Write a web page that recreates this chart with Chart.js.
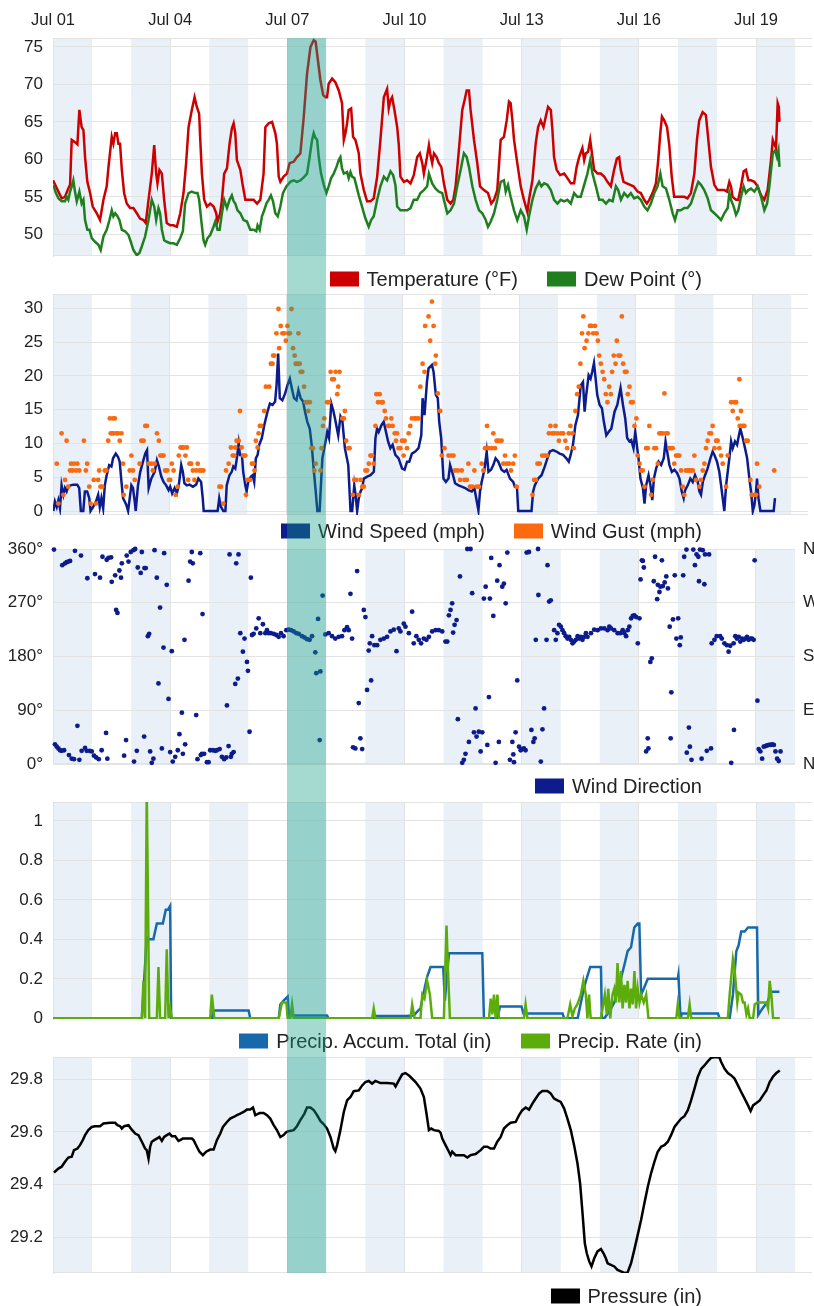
<!DOCTYPE html>
<html>
<head>
<meta charset="utf-8">
<script src="https://cdn.jsdelivr.net/npm/chart.js@4/dist/chart.umd.min.js"></script>
<style>
  html, body { margin: 0; padding: 0; background: #fff; overflow: hidden; }
  #wrap { position: relative; width: 814px; height: 1306px; overflow: hidden; font-family: "Liberation Sans", Arial, sans-serif; }
  #wrap canvas { position: absolute; left: 0; }
  .legend { position: absolute; right: 112px; display: flex; align-items: center; transform: translateY(-50%); font-size: 20px; color: #222; white-space: nowrap; }
  .legend .item { display: flex; align-items: center; margin-left: 29px; }
  .legend .sw { display: inline-block; width: 29px; height: 15px; margin-right: 8px; }
  #hl { position: absolute; background: rgba(18, 158, 131, 0.38); pointer-events: none; }
</style>
</head>
<body>
<div id="wrap">
  <canvas id="c1"></canvas>
  <canvas id="c2"></canvas>
  <canvas id="c3"></canvas>
  <canvas id="c4"></canvas>
  <canvas id="c5"></canvas>
  <div id="hl"></div>
</div>
<script>
// hours since Jul 01 00:00
const dayTickLabels = ['Jul 01', 'Jul 04', 'Jul 07', 'Jul 10', 'Jul 13', 'Jul 16', 'Jul 19'];
const compassLabels = ['N', 'E', 'S', 'W', 'N'];
const shadedDays = [0, 2, 4, 6, 8, 10, 12, 14, 16, 18];
const highlightDay = 6; // Jul 07

const temperatureF = [[0,57.2],[5.3,54.8],[7.4,55.0],[9.4,56.1],[10.5,56.6],[11.5,62.6],[13.5,62.3],[15.0,62.0],[16.2,66.6],[17.6,64.3],[18.7,63.9],[19.7,60.3],[21.1,57.0],[22.8,55.5],[24.4,53.7],[26.9,52.8],[28.9,51.9],[31.0,54.6],[33.0,56.4],[34.1,59.0],[36.1,63.0],[37.1,62.1],[38.2,63.5],[39.2,63.5],[40.2,62.1],[41.2,62.1],[42.3,58.6],[43.7,55.5],[45.3,54.1],[47.4,53.5],[49.4,53.5],[51.5,52.8],[53.5,52.1],[55.6,51.9],[57.0,51.5],[58.7,54.6],[60.7,58.1],[62.2,61.9],[63.4,58.1],[64.2,56.8],[65.4,58.6],[66.9,58.1],[68.3,54.6],[69.9,51.5],[72.0,51.2],[74.1,51.2],[76.1,51.0],[78.2,52.8],[80.2,55.5],[81.8,59.5],[83.3,64.3],[85.3,66.6],[87.0,68.3],[88.4,67.0],[89.8,66.1],[90.5,62.6],[91.5,58.1],[92.9,54.6],[94.6,53.7],[96.6,54.1],[98.7,53.7],[100.3,52.8],[101.1,51.7],[102.7,52.8],[103.8,54.6],[105.2,58.1],[106.9,58.8],[108.5,62.1],[109.9,64.1],[111.0,64.8],[112.0,63.5],[113.0,59.9],[115.1,58.6],[116.7,56.4],[118.2,54.6],[121.2,54.6],[123.3,54.6],[125.4,54.1],[127.4,54.6],[129.4,58.1],[130.5,64.3],[132.5,64.8],[134.6,65.0],[136.6,63.5],[137.6,62.1],[138.7,57.7],[139.7,57.0],[141.7,57.7],[143.8,58.1],[145.4,59.5],[147.9,59.7],[149.9,60.3],[152.0,60.8],[154.1,65.7],[156.1,71.4],[158.2,75.0],[160.2,75.9],[161.4,75.7],[162.3,74.1],[164.3,70.6],[166.0,68.6],[167.4,68.3],[168.4,68.3],[169.4,70.1],[171.5,70.8],[173.5,70.3],[175.6,69.2],[177.6,67.5],[178.7,62.6],[179.7,63.5],[180.7,64.8],[181.7,66.6],[183.2,66.8],[184.4,63.0],[185.8,62.6],[186.9,61.7],[187.9,60.8],[188.9,58.1],[191.0,55.9],[193.0,54.4],[195.1,54.4],[197.1,54.8],[199.2,57.7],[201.2,62.6],[203.3,68.3],[205.3,69.4],[206.3,66.8],[207.4,67.9],[208.4,68.3],[209.8,66.6],[211.5,64.3],[212.5,61.9],[213.5,57.7],[215.6,57.0],[217.6,57.2],[219.7,56.8],[221.7,57.9],[223.8,60.3],[225.4,60.8],[226.9,59.5],[227.9,58.1],[229.5,59.9],[231.0,61.9],[232.0,60.5],[233.0,59.5],[234.1,60.8],[235.7,60.3],[237.1,59.5],[238.6,59.0],[240.2,56.8],[242.3,54.6],[244.3,54.1],[246.0,54.6],[247.4,56.4],[249.4,61.2],[251.5,66.6],[252.9,67.9],[254.2,69.2],[255.6,69.2],[256.6,66.6],[258.7,62.6],[260.7,59.5],[262.4,56.4],[264.8,55.9],[267.3,55.5],[269.3,54.1],[271.0,54.6],[273.0,55.9],[275.1,62.6],[277.1,63.0],[278.8,65.2],[280.2,67.7],[281.2,67.5],[282.3,65.2],[283.3,62.6],[285.3,59.5],[287.4,56.4],[289.4,54.6],[291.5,53.0],[292.5,54.6],[294.6,57.2],[296.6,62.1],[298.1,64.3],[299.7,65.2],[301.4,64.3],[302.8,65.7],[304.2,67.0],[305.9,66.6],[306.9,63.9],[307.9,60.3],[309.5,58.6],[311.6,57.9],[314.1,58.1],[316.1,57.5],[318.2,56.8],[320.2,56.8],[321.8,59.0],[323.3,60.3],[325.3,61.5],[326.4,59.9],[327.4,60.8],[328.8,61.0],[330.1,62.6],[331.5,60.3],[332.5,58.6],[334.6,58.1],[336.6,58.1],[338.7,57.7],[340.7,57.0],[342.8,56.4],[344.8,58.6],[346.5,60.1],[347.9,60.3],[348.9,58.6],[350.6,57.0],[352.6,56.8],[354.7,56.6],[356.7,56.4],[359.2,55.7],[361.2,55.5],[363.3,54.6],[364.9,54.1],[366.4,54.6],[368.4,55.5],[370.5,56.8],[371.9,59.9],[373.2,63.5],[374.2,65.7],[375.6,65.2],[377.3,64.3],[378.7,61.9],[380.2,57.7],[381.7,55.0],[383.8,55.0],[385.8,55.0],[387.9,55.0],[389.9,54.8],[392.0,55.5],[394.1,58.1],[395.7,62.6],[397.1,65.2],[399.2,66.3],[401.2,65.9],[402.7,62.6],[404.3,59.0],[406.4,56.6],[408.4,55.9],[410.5,55.9],[412.5,55.9],[414.2,55.7],[415.6,57.0],[416.6,56.4],[417.6,55.0],[419.7,54.6],[421.1,54.6],[422.8,56.4],[424.4,58.4],[425.8,58.6],[427.3,57.2],[428.9,57.2],[431.0,57.0],[433.0,56.4],[435.1,55.2],[437.1,54.6],[439.2,56.0],[441.2,59.9],[442.3,62.6],[443.3,62.0],[444.3,61.5],[445.3,67.5],[446.0,67.0],[446.4,65.0]];

const dewPointF = [[0.2,56.6],[1.8,55.5],[3.3,54.8],[5.3,54.4],[7.4,54.4],[8.4,55.0],[9.4,54.6],[10.5,55.7],[11.5,56.4],[12.5,57.2],[13.5,55.7],[14.6,54.4],[16.2,55.7],[17.6,54.1],[18.7,54.6],[19.7,51.9],[21.1,50.6],[22.4,50.6],[23.8,49.5],[25.8,49.0],[27.9,48.6],[29.3,47.9],[31.0,49.7],[33.0,50.6],[34.7,51.9],[36.1,53.2],[37.1,52.4],[38.2,52.8],[39.6,52.4],[40.8,51.9],[42.3,50.6],[44.3,50.4],[46.4,49.9],[47.8,49.0],[49.4,47.9],[51.5,47.2],[53.1,47.5],[54.6,48.4],[56.6,49.7],[58.7,51.9],[60.7,54.6],[62.2,53.7],[63.4,51.9],[64.8,53.5],[65.8,52.8],[66.9,50.6],[68.3,49.2],[69.9,49.0],[72.0,48.8],[74.1,48.8],[76.1,48.6],[78.2,49.5],[79.8,50.4],[81.2,54.1],[83.3,55.5],[85.3,55.7],[87.4,55.5],[88.8,55.5],[89.8,54.6],[91.1,51.9],[92.5,49.2],[93.5,48.6],[95.0,49.5],[96.6,49.9],[98.3,50.8],[99.7,51.7],[101.1,50.6],[102.4,50.6],[103.8,52.8],[105.2,54.6],[106.9,53.5],[108.5,54.6],[109.9,55.2],[111.0,54.4],[112.0,54.1],[113.4,53.2],[115.1,52.8],[117.1,51.9],[119.2,51.7],[121.2,50.6],[123.3,50.6],[124.9,50.4],[125.7,51.2],[127.0,50.6],[128.4,52.4],[129.8,53.2],[131.1,54.1],[132.5,54.6],[133.9,55.2],[135.2,54.4],[136.6,52.8],[138.1,52.4],[139.7,53.7],[141.3,55.5],[143.4,56.4],[145.8,57.0],[147.9,57.2],[149.9,57.0],[152.0,57.2],[154.5,57.7],[156.1,58.1],[157.7,60.3],[159.2,62.6],[160.2,63.5],[161.2,62.9],[162.3,62.6],[163.3,60.3],[164.7,58.1],[166.4,56.6],[168.0,55.5],[169.4,56.4],[170.9,57.5],[172.5,58.1],[174.2,59.0],[175.6,59.9],[176.6,60.3],[177.6,58.8],[178.7,58.1],[180.7,58.3],[181.7,57.5],[182.8,58.3],[183.8,57.7],[185.2,57.5],[186.5,56.4],[187.9,55.2],[189.9,53.7],[192.0,52.1],[194.0,51.0],[195.5,51.9],[197.1,52.4],[199.2,54.6],[201.2,56.4],[203.3,57.7],[205.3,57.2],[207.4,58.4],[209.0,57.9],[210.4,56.6],[211.5,53.7],[213.5,53.2],[215.6,53.2],[217.6,53.2],[219.7,53.5],[221.7,54.6],[223.8,54.6],[225.8,55.5],[227.9,55.9],[229.9,56.4],[231.0,58.1],[233.0,56.8],[235.1,56.1],[237.1,55.7],[239.2,55.5],[240.2,54.6],[242.3,52.8],[244.3,53.2],[246.4,54.1],[248.4,56.4],[250.5,58.6],[252.5,60.8],[254.2,60.3],[255.6,59.0],[257.7,56.4],[259.7,54.6],[261.8,53.2],[263.8,52.8],[265.9,51.9],[267.3,51.0],[269.0,51.7],[271.0,52.8],[273.0,54.6],[275.1,57.0],[277.1,57.2],[278.2,55.7],[279.6,56.6],[281.2,55.0],[283.3,53.2],[285.3,51.9],[287.4,53.2],[289.4,52.4],[291.1,50.6],[292.5,52.4],[294.6,54.6],[296.6,56.1],[298.7,57.0],[300.1,56.4],[301.8,56.8],[303.8,56.6],[305.9,55.9],[307.9,54.6],[310.0,54.1],[312.0,54.6],[314.1,54.4],[316.1,54.6],[318.2,54.1],[320.2,55.5],[322.2,55.0],[324.3,55.0],[326.4,56.6],[328.4,58.1],[330.1,59.9],[331.5,58.1],[333.6,56.4],[335.6,54.6],[337.7,54.6],[339.8,54.1],[341.8,54.6],[343.9,54.4],[345.9,56.4],[347.3,55.9],[349.0,54.6],[351.0,55.5],[353.1,55.0],[355.1,55.5],[357.1,54.8],[359.2,55.0],[361.2,54.6],[363.3,53.7],[365.3,53.2],[367.4,54.1],[369.5,55.5],[371.5,56.4],[373.2,58.1],[374.6,56.4],[376.7,56.1],[378.7,54.6],[380.8,52.8],[382.2,51.9],[383.8,53.2],[385.8,53.2],[387.9,53.5],[389.9,53.5],[392.0,54.1],[394.1,55.5],[396.5,57.0],[398.2,56.6],[400.2,55.9],[402.3,54.8],[404.3,53.2],[406.4,52.8],[408.4,52.4],[410.5,51.9],[412.5,52.8],[414.6,53.5],[415.6,55.5],[416.6,54.6],[418.3,53.7],[419.7,52.6],[421.1,53.2],[422.8,55.0],[424.4,56.4],[425.8,55.5],[427.3,55.9],[428.9,56.1],[431.0,55.7],[433.0,56.4],[435.1,55.0],[437.1,53.2],[438.8,54.1],[440.2,56.4],[442.3,60.8],[443.7,61.2],[444.9,60.3],[445.8,61.2],[446.4,59.0]];

const windSpeedMph = [[0.2,0],[1.2,1.4],[2.3,0.6],[3.3,1.6],[4.3,0.4],[5.3,3.8],[6.4,2.4],[7.4,3.4],[8.4,2.9],[9.4,3.6],[10.9,3.8],[12.5,3.9],[15.0,3.9],[16.2,3.4],[17.2,0],[18.7,0],[19.7,2.9],[21.1,2.9],[22.4,1.9],[23.2,0],[24.8,0.6],[26.5,1.4],[27.9,2.4],[28.9,0.6],[29.9,1.9],[31.0,0.4],[32.0,3.8],[33.0,5.1],[34.7,6.8],[36.1,6.6],[37.1,7.8],[38.8,8.5],[40.2,8.0],[41.2,7.3],[42.3,4.3],[43.3,1.9],[44.3,1.4],[45.3,0.9],[46.4,0],[47.4,1.9],[48.4,3.8],[49.4,3.4],[50.5,1.4],[51.1,0],[52.5,3.8],[53.9,5.8],[55.6,7.3],[57.0,8.5],[58.1,9.0],[59.1,3.4],[60.7,4.8],[62.8,5.8],[64.2,7.5],[65.4,6.6],[66.9,5.1],[68.3,4.3],[69.9,3.8],[71.4,3.1],[72.4,3.6],[73.6,2.6],[75.1,3.4],[76.5,2.6],[77.7,3.8],[79.2,6.8],[80.2,5.8],[81.2,4.1],[82.7,3.8],[84.3,3.9],[86.4,3.6],[88.4,3.9],[89.8,4.8],[91.5,4.3],[92.5,1.9],[93.1,0],[95.6,0],[98.7,0],[101.7,0],[102.7,1.9],[103.8,0.6],[105.2,0],[106.5,0],[107.3,3.8],[109.0,5.3],[110.4,5.8],[111.4,6.6],[112.6,6.3],[113.4,7.5],[114.7,10.0],[115.5,8.3],[116.7,8.3],[117.5,5.8],[118.8,3.8],[119.6,2.9],[120.8,4.6],[122.3,5.1],[123.3,5.3],[124.3,4.3],[125.3,7.8],[126.4,8.3],[127.4,9.8],[129.0,10.8],[130.5,12.7],[132.5,14.7],[134.0,15.9],[135.6,15.7],[137.2,16.2],[138.1,18.6],[139.1,23.3],[140.1,16.7],[141.7,16.4],[143.4,17.4],[144.8,18.6],[146.3,19.6],[147.5,18.2],[148.9,16.7],[150.4,16.4],[151.6,17.9],[153.0,16.7],[154.5,16.2],[155.7,14.7],[157.1,13.2],[158.6,12.2],[159.8,9.8],[161.2,5.8],[162.3,2.9],[163.3,0],[164.7,0],[165.5,3.8],[166.4,7.8],[168.0,9.8],[169.4,11.7],[170.5,10.8],[171.9,15.9],[173.1,14.9],[174.2,13.7],[175.0,12.7],[176.2,11.2],[177.6,14.0],[178.7,13.5],[180.3,9.3],[182.4,6.8],[183.8,0],[184.8,0],[186.1,3.8],[186.9,2.4],[187.9,0],[188.9,1.9],[190.0,2.9],[191.0,3.4],[192.0,4.8],[194.1,5.1],[196.1,5.3],[198.2,5.8],[199.2,10.8],[200.2,12.2],[201.2,11.7],[202.9,12.7],[204.3,13.2],[205.7,11.7],[207.0,10.3],[208.4,9.3],[209.8,9.8],[211.5,8.3],[213.5,7.8],[215.6,6.3],[217.2,6.1],[218.7,7.3],[220.1,7.3],[221.7,8.5],[223.8,8.8],[225.8,9.3],[227.5,11.2],[228.3,16.7],[229.5,14.2],[231.0,19.1],[232.0,21.1],[234.1,21.6],[235.1,20.6],[236.5,17.2],[237.7,16.7],[238.6,13.2],[239.8,10.8],[241.2,4.8],[242.7,4.3],[244.3,4.8],[245.3,6.8],[246.8,5.6],[248.4,4.1],[250.5,3.8],[252.5,3.6],[254.6,3.4],[256.6,3.1],[258.7,2.9],[260.3,3.4],[261.8,1.4],[262.8,0.1],[263.8,2.9],[264.8,4.3],[266.5,6.1],[267.9,8.8],[269.0,5.8],[270.6,6.1],[272.0,6.8],[273.4,7.8],[275.1,7.3],[277.1,6.1],[278.8,5.8],[280.2,6.1],[282.3,4.8],[284.3,4.3],[285.3,3.6],[286.6,3.6],[287.4,0],[291.5,0],[295.6,0],[296.6,2.9],[297.6,3.8],[299.7,4.8],[301.8,5.3],[303.8,6.6],[305.4,7.8],[306.9,8.8],[308.9,9.0],[311.0,8.8],[313.0,8.5],[315.1,8.3],[317.1,7.8],[318.6,7.3],[319.8,8.3],[321.2,9.8],[322.7,12.7],[324.3,14.2],[326.0,18.6],[327.4,19.1],[328.4,14.7],[329.4,17.2],[330.9,20.1],[332.1,19.6],[333.1,20.6],[334.2,21.9],[335.2,19.6],[336.2,17.2],[337.7,15.7],[339.1,15.2],[340.3,13.2],[341.8,11.2],[343.2,11.7],[344.9,12.2],[346.9,14.7],[348.6,15.7],[350.6,18.2],[352.1,15.7],[353.5,13.7],[354.7,10.8],[356.1,10.3],[357.2,10.5],[358.6,9.3],[359.7,11.7],[360.9,9.3],[361.7,7.8],[362.9,4.8],[364.4,3.4],[365.4,1.1],[366.4,3.8],[367.9,5.3],[369.1,3.8],[370.2,1.6],[371.2,4.8],[372.6,6.3],[374.1,7.3],[375.7,6.8],[377.3,7.8],[378.4,10.3],[379.4,8.8],[380.8,6.8],[382.3,5.8],[383.9,6.1],[385.6,5.6],[387.0,4.8],[388.4,2.9],[389.6,1.9],[390.5,3.1],[392.1,3.8],[393.7,4.8],[395.2,4.3],[396.6,5.3],[398.3,4.3],[399.3,2.9],[400.3,2.4],[401.4,4.3],[402.8,5.3],[404.4,6.3],[406.1,7.8],[407.5,8.8],[408.6,8.3],[410.2,7.3],[411.6,5.8],[412.7,3.8],[413.7,1.9],[414.7,0],[415.8,3.8],[416.8,5.8],[417.8,7.8],[418.9,10.3],[419.9,9.3],[421.3,10.3],[422.6,9.8],[423.4,10.8],[424.6,12.2],[426.1,10.8],[427.5,9.3],[428.8,7.8],[430.2,4.8],[431.2,2.9],[432.3,0],[433.3,0.9],[434.3,2.9],[434.9,4.8],[435.8,1.9],[437.0,0],[439.4,0],[442.5,0],[445.2,0],[446.0,1.9]];

const windGustMph = [[2.3,7.0],[3.3,1.1],[5.3,11.5],[6.4,2.4],[7.4,4.6],[8.4,10.4],[9.4,3.6],[10.5,6.0],[11.1,7.0],[12.1,6.0],[12.9,7.0],[14.2,6.0],[15.0,7.0],[16.2,6.0],[19.1,10.4],[20.3,6.0],[21.1,7.0],[22.4,3.6],[23.2,1.1],[25.2,4.6],[26.5,1.1],[27.9,4.6],[28.5,6.0],[29.3,3.6],[30.4,3.6],[32.0,6.0],[33.0,6.0],[34.1,10.4],[35.1,13.7],[35.7,11.5],[36.5,11.5],[37.1,13.7],[37.5,11.5],[38.2,13.7],[39.2,11.5],[40.2,11.5],[41.2,10.4],[42.3,11.5],[43.3,7.0],[43.7,2.4],[45.3,3.6],[47.4,6.0],[48.4,8.2],[49.4,6.0],[50.5,4.6],[53.5,7.0],[54.6,10.4],[56.0,10.4],[57.0,12.6],[58.0,12.6],[59.1,7.0],[60.7,7.0],[61.7,6.0],[62.8,7.0],[64.2,11.5],[65.4,10.4],[66.3,8.2],[67.3,8.2],[68.3,8.2],[69.3,6.0],[70.6,6.0],[71.6,4.6],[72.4,4.6],[73.4,7.0],[74.5,6.0],[75.7,2.4],[77.1,3.6],[77.7,8.2],[78.8,9.4],[79.8,9.4],[80.8,9.4],[81.8,8.2],[82.7,9.4],[83.5,4.6],[84.3,7.0],[85.3,7.0],[86.4,6.0],[87.4,4.6],[88.4,6.0],[89.4,7.0],[90.5,6.0],[91.5,6.0],[92.9,6.0],[102.8,3.6],[103.8,3.6],[105.2,1.1],[106.9,6.0],[108.5,7.0],[109.9,9.4],[111.0,8.2],[112.0,8.2],[112.6,9.4],[113.4,10.4],[114.7,10.4],[115.5,14.8],[116.5,9.4],[117.5,8.2],[118.8,8.2],[119.2,2.4],[120.2,4.6],[121.6,4.6],[122.9,7.0],[123.7,7.0],[124.5,6.0],[125.3,10.4],[126.4,9.4],[127.0,11.5],[127.8,12.6],[128.6,12.6],[130.5,14.8],[131.5,18.4],[133.6,18.4],[134.6,21.8],[135.6,21.8],[136.0,23.0],[136.8,23.0],[138.0,26.3],[139.3,29.9],[139.7,24.1],[140.7,27.4],[141.7,26.3],[142.8,26.3],[143.8,25.2],[144.8,27.4],[145.4,26.3],[146.3,26.3],[147.3,29.9],[148.3,24.1],[149.3,23.0],[149.9,21.8],[151.0,21.8],[151.6,26.3],[152.4,21.8],[153.0,20.6],[154.0,20.6],[155.1,18.4],[156.1,16.1],[157.1,16.1],[157.7,14.8],[158.6,16.1],[159.6,9.3],[160.6,9.3],[161.4,6.0],[162.3,7.0],[165.3,6.0],[165.9,9.3],[166.8,12.6],[167.6,13.7],[169.4,16.1],[170.5,16.1],[171.5,20.6],[172.5,19.5],[173.5,19.5],[174.6,20.6],[175.6,17.3],[176.2,18.4],[177.0,20.6],[178.7,13.7],[179.7,13.7],[180.3,14.8],[181.1,10.4],[182.4,9.3],[183.2,9.3],[185.2,2.4],[186.1,4.6],[187.3,4.6],[188.9,2.4],[190.0,4.6],[191.0,3.6],[192.0,3.6],[193.0,6.0],[194.0,6.0],[195.1,7.0],[196.1,8.2],[197.1,8.2],[198.2,7.0],[199.2,12.6],[199.8,17.3],[200.8,16.1],[201.8,17.3],[202.9,16.1],[203.7,16.1],[204.9,14.8],[205.7,13.7],[207.0,12.6],[207.8,12.6],[209.0,13.7],[209.8,12.6],[211.1,11.5],[211.9,10.4],[212.5,11.5],[213.5,9.3],[214.6,9.3],[215.6,10.4],[216.6,8.2],[217.2,10.4],[218.7,9.3],[219.7,11.5],[220.7,12.6],[221.7,13.7],[223.4,13.7],[224.2,13.7],[225.8,13.7],[226.9,18.4],[228.3,21.8],[229.5,20.6],[229.9,27.4],[232.0,28.8],[233.0,25.2],[234.1,31.0],[235.1,27.4],[236.1,21.8],[236.5,23.0],[237.7,17.4],[239.2,14.8],[240.2,8.2],[241.8,9.3],[244.3,8.2],[245.9,8.2],[247.4,8.2],[248.4,6.0],[250.1,6.0],[251.5,4.6],[252.5,6.0],[254.2,4.6],[255.6,4.6],[256.6,7.0],[257.6,3.6],[259.1,3.6],[260.3,6.0],[261.8,3.6],[263.2,3.6],[264.8,7.0],[265.9,6.0],[266.9,9.3],[268.1,12.6],[269.0,9.3],[271.0,9.3],[272.0,11.5],[273.0,9.3],[274.0,10.4],[275.5,10.4],[277.1,10.4],[278.2,7.0],[279.2,8.2],[280.2,7.0],[281.7,7.0],[282.9,6.0],[284.3,7.0],[285.3,8.2],[286.4,3.6],[296.2,2.4],[297.2,4.6],[298.3,4.6],[299.3,7.0],[300.7,7.0],[302.2,8.2],[303.8,8.2],[305.2,8.2],[306.3,11.5],[307.3,12.6],[308.4,11.5],[309.6,11.5],[310.4,12.6],[311.5,11.5],[312.5,10.4],[313.7,11.5],[315.1,11.5],[316.5,10.4],[317.6,9.3],[318.6,11.5],[319.6,12.6],[320.9,11.5],[321.7,9.3],[322.7,14.8],[323.8,17.3],[324.8,18.4],[325.8,21.8],[326.8,26.3],[327.6,28.8],[328.4,24.1],[329.6,25.2],[330.7,26.3],[331.7,27.4],[332.7,27.4],[333.7,26.3],[334.8,27.4],[335.8,26.3],[336.6,25.2],[337.4,23.0],[338.4,21.8],[339.5,20.6],[340.5,19.5],[341.5,17.3],[342.5,16.1],[343.6,18.4],[344.6,17.3],[345.4,20.6],[346.4,23.0],[347.5,21.8],[348.3,25.2],[349.3,23.0],[350.4,23.0],[351.4,28.8],[352.2,21.8],[353.3,20.6],[354.3,20.6],[355.1,17.3],[356.1,18.4],[357.1,16.1],[358.2,16.1],[359.2,12.6],[360.4,13.7],[361.2,8.2],[362.3,7.0],[363.3,6.0],[364.3,6.0],[365.4,3.6],[366.4,9.3],[367.4,9.3],[368.4,12.6],[369.5,2.4],[370.5,4.6],[371.5,9.3],[372.5,9.3],[373.6,7.0],[374.6,11.5],[375.6,11.5],[376.6,11.5],[377.7,17.4],[378.7,11.5],[379.7,11.5],[380.8,9.3],[381.8,9.3],[382.8,9.3],[383.8,7.0],[384.9,8.2],[385.9,8.2],[386.9,8.2],[388.0,6.0],[389.0,3.6],[390.0,2.4],[391.0,6.0],[392.1,6.0],[393.1,6.0],[394.1,6.0],[395.2,6.0],[396.2,8.2],[397.2,4.6],[399.3,3.6],[400.3,4.6],[401.4,6.0],[402.4,7.0],[403.4,9.3],[404.4,10.4],[405.5,11.5],[406.5,11.5],[407.5,12.6],[408.6,9.3],[409.6,10.4],[410.6,10.4],[411.6,9.3],[412.7,8.2],[413.7,7.0],[415.8,3.6],[416.8,8.2],[418.9,16.1],[419.9,14.8],[420.9,16.1],[422.0,16.1],[423.0,13.7],[424.0,19.5],[424.2,12.6],[425.0,14.8],[426.1,12.6],[427.1,12.6],[428.1,10.4],[429.2,10.4],[430.8,4.6],[431.6,2.4],[433.3,2.4],[434.3,2.4],[434.9,7.0],[436.3,3.6],[445.5,6.0]];

const windDirectionDeg = [[0.6,359],[1.2,33],[2.3,29],[3.3,26],[4.3,23],[5.3,22],[5.7,333],[6.8,23],[7.4,336],[8.4,338],[9.4,339],[9.8,15],[10.5,340],[11.5,9],[12.9,8],[13.5,357],[15.0,64],[16.2,7],[17.2,349],[17.6,22],[19.7,27],[20.7,22],[21.1,311],[22.4,22],[23.8,21],[25.2,14],[25.8,318],[26.5,11],[28.1,8],[28.9,312],[29.9,23],[30.4,347],[32.6,52],[33.0,342],[33.4,9],[34.1,345],[35.7,346],[36.1,305],[38.2,316],[38.8,258],[39.6,253],[40.8,324],[41.8,312],[42.3,336],[43.7,14],[44.9,40],[45.3,349],[46.4,339],[47.8,355],[49.4,358],[49.8,4],[50.5,360],[51.5,22],[52.1,329],[53.9,320],[54.6,355],[56.0,46],[56.2,328],[57.0,328],[58.3,214],[59.1,218],[59.7,21],[60.7,2],[61.7,9],[62.4,358],[63.8,312],[64.8,135],[65.8,262],[66.9,26],[67.9,195],[68.3,353],[69.9,300],[71.0,109],[72.0,20],[73.0,189],[73.6,4],[75.1,12],[76.7,23],[77.7,50],[79.2,86],[79.8,17],[80.8,208],[81.2,33],[83.3,307],[84.3,339],[85.3,355],[85.9,336],[88.0,82],[88.8,8],[90.5,353],[90.8,15],[91.5,17],[91.9,251],[92.9,17],[94.6,3],[95.6,3],[96.6,23],[98.3,23],[99.7,22],[100.7,23],[102.4,25],[103.8,12],[105.2,8],[106.5,11],[106.9,98],[107.9,30],[108.5,351],[109.3,12],[109.9,17],[111.0,20],[112.0,134],[112.6,336],[113.6,143],[114.0,351],[115.1,219],[116.7,188],[117.7,210],[119.2,171],[119.8,156],[120.8,54],[121.6,312],[122.3,216],[123.3,218],[124.9,227],[126.4,244],[127.4,219],[129.0,234],[130.5,219],[131.5,224],[132.5,219],[133.9,219],[135.6,218],[137.2,216],[138.7,213],[140.1,219],[141.7,214],[143.4,224],[144.8,225],[146.3,224],[147.9,222],[149.5,219],[151.0,218],[153.0,214],[154.5,212],[156.1,209],[157.7,208],[159.2,214],[161.2,187],[161.8,152],[162.9,243],[163.9,40],[164.3,155],[165.7,282],[167.4,217],[169.4,219],[171.5,214],[173.5,210],[175.6,213],[177.6,214],[179.1,224],[180.7,229],[181.7,224],[182.8,285],[183.8,210],[184.4,28],[185.8,26],[186.9,323],[187.9,102],[188.9,43],[190.0,25],[191.0,258],[192.0,246],[193.0,124],[194.0,190],[194.7,202],[195.5,140],[196.1,214],[197.5,199],[199.2,199],[201.2,208],[203.3,210],[205.3,213],[207.4,222],[209.4,225],[211.1,189],[212.5,227],[213.5,222],[215.6,235],[216.6,230],[218.7,219],[220.7,255],[221.7,202],[223.3,214],[224.8,208],[226.2,202],[227.9,210],[229.5,208],[231.0,213],[233.0,222],[235.1,224],[237.1,224],[239.2,222],[241.2,205],[242.3,205],[243.3,249],[244.3,258],[245.3,269],[245.9,220],[246.8,233],[248.0,241],[248.8,75],[250.1,314],[251.5,2],[252.5,7],[253.5,17],[254.6,360],[255.6,37],[256.6,360],[257.6,286],[258.7,53],[259.7,93],[260.3,46],[261.7,54],[262.8,21],[263.8,53],[264.8,277],[265.9,297],[266.9,32],[267.9,112],[268.5,277],[269.3,345],[270.6,248],[272.0,2],[273.0,307],[274.0,37],[274.4,333],[276.1,297],[277.1,302],[278.2,269],[279.2,354],[280.8,7],[282.3,37],[282.9,16],[283.3,3],[284.3,53],[285.3,140],[286.4,29],[287.4,23],[288.4,25],[289.4,26],[290.4,23],[291.1,354],[292.5,355],[294.0,57],[295.2,37],[296.0,43],[296.7,208],[298.1,360],[298.3,283],[299.8,4],[300.8,58],[301.8,93],[303.3,208],[303.9,333],[304.9,272],[305.9,274],[308.0,224],[309.0,208],[310.0,219],[311.0,233],[312.1,230],[313.1,224],[314.1,219],[315.1,214],[316.2,210],[317.2,213],[318.2,208],[319.3,202],[320.3,205],[321.3,208],[322.4,214],[323.4,210],[324.4,213],[325.4,208],[326.5,213],[327.5,219],[328.5,213],[330.6,219],[332.6,225],[334.7,224],[336.7,227],[338.8,227],[340.8,224],[341.9,230],[342.9,227],[344.9,224],[347.0,219],[348.6,219],[350.1,224],[351.1,219],[352.2,214],[353.2,224],[354.2,230],[355.3,244],[356.3,248],[357.3,249],[358.4,246],[359.4,202],[360.4,244],[361.1,309],[361.9,341],[362.5,340],[363.1,329],[364.5,21],[365.5,43],[365.9,26],[367.1,171],[368.0,177],[369.2,306],[370.0,347],[371.3,276],[371.7,300],[372.7,288],[373.3,297],[374.2,341],[374.8,298],[375.9,304],[376.9,314],[377.9,294],[379.0,230],[379.6,43],[380.0,120],[381.0,242],[382.1,316],[383.1,210],[384.2,244],[385.2,199],[385.8,212],[387.3,316],[387.9,347],[389.3,359],[389.5,19],[390.8,61],[391.4,29],[392.4,7],[393.5,359],[394.5,333],[395.5,351],[396.6,347],[397.0,306],[397.6,359],[398.6,9],[399.3,358],[400.3,301],[400.7,351],[401.8,22],[403.2,351],[404.4,26],[404.8,202],[406.5,208],[407.9,214],[410.0,214],[411.0,210],[412.6,202],[414.1,199],[415.2,188],[416.2,198],[416.8,2],[418.3,202],[418.5,57],[419.3,214],[420.3,210],[421.4,213],[422.4,205],[423.4,210],[424.5,208],[425.5,210],[426.5,213],[427.5,208],[428.6,210],[429.6,210],[430.6,208],[431.2,341],[432.9,106],[433.7,25],[434.7,21],[435.8,9],[436.8,29],[437.8,30],[438.8,31],[439.9,32],[440.9,32],[441.9,33],[443.0,32],[444.0,21],[445.0,9],[446.0,5],[447.1,21]];

const precipAccumIn = [[0.2,0],[54.6,0],[57.6,0.41],[59.3,0.40],[61.7,0.40],[63.8,0.48],[67.5,0.48],[69.3,0.55],[70.6,0.55],[72.0,0.57],[72.6,0],[97.6,0],[98.7,0.04],[120.2,0.04],[121.2,0],[138.7,0],[139.7,0.07],[141.7,0.09],[144.2,0.11],[145.0,0.014],[168.4,0.014],[169.4,0],[197.1,0],[198.1,0.012],[216.6,0.012],[221.7,0.014],[223.8,0.034],[225.8,0.05],[227.9,0.135],[229.9,0.21],[232.0,0.26],[239.8,0.26],[240.8,0.09],[243.3,0.33],[263.8,0.33],[264.8,0],[273.1,0],[274.7,0.06],[287.9,0.06],[289.1,0.025],[313.1,0.025],[314.1,0],[322.4,0],[325.4,0.12],[327.5,0.19],[330.1,0.26],[336.7,0.26],[337.3,0],[338.8,0],[341.8,0.034],[344.9,0.08],[348.0,0.17],[351.1,0.27],[353.1,0.34],[355.2,0.36],[357.2,0.46],[359.3,0.48],[360.3,0.48],[361.4,0.12],[363.0,0.15],[365.5,0.20],[383.9,0.20],[384.3,0.22],[385.6,0],[386.4,0.025],[408.6,0.025],[409.6,0],[415.8,0],[417.8,0.12],[419.9,0.34],[421.3,0.37],[422.9,0.44],[425.0,0.44],[427.1,0.46],[432.6,0.46],[433.4,0.017],[436.0,0.05],[439.2,0.085],[441.2,0.135],[446.4,0.135]];

const precipRateIn = [[0.2,0],[54.6,0],[55.6,0.19],[56.6,0],[57.6,1.15],[58.5,0.5],[59.1,0],[63.8,0],[64.8,0.26],[65.8,0],[68.9,0],[69.9,0.35],[71.0,0],[72.0,0.05],[73.0,0],[96.6,0],[97.6,0.12],[99.1,0],[138.7,0],[140.7,0.08],[143.4,0.08],[144.2,0],[145.8,0],[146.9,0.07],[147.9,0],[196.1,0],[197.1,0.05],[198.1,0],[219.7,0],[220.7,0.07],[222.2,0],[225.8,0],[226.9,0.12],[228.3,0.10],[229.9,0.19],[231.6,0.12],[233.0,0],[240.2,0],[241.8,0.47],[242.7,0.25],[243.9,0],[267.9,0],[269.0,0.10],[270.0,0.02],[271.0,0.12],[272.0,0],[273.1,0.12],[274.0,0],[289.4,0],[290.4,0.07],[291.5,0],[316.1,0],[317.8,0.07],[319.2,0.01],[320.6,0.05],[322.2,0.07],[324.3,0.12],[325.9,0.19],[327.4,0.12],[328.4,0],[329.4,0.12],[330.4,0],[336.6,0],[337.7,0.05],[339.1,0.12],[340.3,0.02],[341.2,0.15],[342.4,0],[343.8,0.12],[344.9,0.15],[345.9,0.08],[346.9,0.28],[348.0,0.08],[349.0,0.24],[350.0,0.05],[351.1,0.17],[352.1,0.08],[353.1,0.19],[354.2,0.05],[355.2,0.15],[356.2,0.07],[357.3,0.24],[358.3,0.05],[359.3,0.15],[360.4,0.08],[361.4,0.12],[363.0,0.08],[364.5,0.12],[365.9,0],[383.0,0],[383.9,0.07],[385.0,0],[390.1,0],[391.2,0.07],[392.2,0],[414.7,0],[415.8,0.12],[417.8,0.30],[418.8,0.25],[420.5,0.08],[421.3,0.13],[422.9,0.12],[424.0,0.08],[425.0,0.08],[426.1,0.02],[427.1,0.05],[428.1,0],[430.2,0],[431.2,0.07],[432.9,0.08],[438.4,0.08],[439.4,0.05],[440.4,0.19],[441.4,0.12],[442.5,0],[446.6,0]];

const pressureIn = [[0.6,29.446],[3.3,29.461],[5.3,29.468],[7.4,29.487],[9.4,29.503],[11.5,29.506],[12.9,29.531],[15.0,29.537],[16.6,29.550],[18.3,29.569],[19.7,29.588],[21.7,29.607],[23.8,29.619],[25.8,29.622],[28.9,29.622],[31.0,29.632],[35.1,29.635],[38.2,29.635],[39.6,29.626],[41.2,29.622],[42.3,29.613],[43.7,29.622],[46.4,29.626],[48.4,29.609],[50.5,29.594],[52.5,29.588],[54.6,29.563],[56.6,29.537],[57.6,29.531],[58.7,29.499],[59.7,29.544],[60.7,29.563],[62.2,29.569],[63.8,29.575],[65.4,29.581],[66.9,29.566],[68.3,29.581],[69.9,29.588],[71.6,29.594],[73.0,29.584],[75.1,29.584],[77.1,29.566],[78.1,29.569],[79.8,29.575],[85.3,29.575],[86.4,29.569],[88.4,29.544],[90.0,29.525],[92.1,29.512],[94.1,29.525],[96.6,29.533],[98.7,29.533],[100.7,29.569],[102.8,29.594],[104.4,29.619],[106.9,29.638],[108.9,29.651],[111.0,29.657],[113.0,29.664],[115.1,29.670],[117.1,29.676],[119.2,29.685],[121.2,29.685],[122.9,29.693],[124.3,29.664],[125.3,29.667],[127.0,29.672],[129.4,29.672],[131.5,29.664],[133.5,29.651],[135.6,29.626],[137.6,29.607],[139.7,29.581],[141.7,29.588],[143.4,29.600],[144.8,29.603],[147.9,29.607],[149.9,29.622],[152.0,29.645],[154.5,29.670],[156.1,29.693],[158.2,29.693],[160.2,29.683],[162.3,29.664],[164.3,29.642],[166.4,29.629],[168.4,29.613],[170.5,29.581],[172.5,29.537],[173.5,29.527],[174.6,29.550],[176.6,29.607],[178.7,29.676],[180.7,29.720],[182.8,29.733],[184.8,29.755],[187.9,29.758],[190.0,29.777],[192.0,29.790],[194.0,29.794],[196.1,29.784],[198.1,29.794],[201.2,29.786],[205.3,29.786],[209.4,29.784],[210.5,29.773],[212.5,29.796],[214.6,29.819],[216.6,29.824],[218.7,29.815],[219.7,29.809],[222.8,29.790],[225.8,29.765],[227.9,29.733],[229.5,29.670],[231.0,29.607],[232.4,29.613],[234.1,29.607],[237.1,29.604],[238.2,29.597],[239.2,29.575],[241.2,29.550],[243.3,29.525],[244.3,29.512],[245.3,29.525],[247.4,29.512],[250.5,29.512],[252.5,29.512],[254.6,29.503],[256.6,29.512],[259.7,29.516],[262.8,29.531],[264.8,29.544],[266.9,29.544],[268.9,29.537],[271.0,29.537],[273.0,29.563],[275.1,29.581],[277.1,29.613],[279.2,29.626],[281.2,29.635],[284.3,29.638],[286.4,29.664],[288.4,29.683],[290.5,29.693],[292.5,29.685],[294.6,29.708],[296.6,29.727],[298.7,29.746],[300.7,29.756],[303.8,29.756],[305.9,29.746],[307.9,29.727],[310.0,29.720],[312.0,29.714],[314.1,29.689],[316.1,29.651],[318.2,29.607],[320.2,29.550],[322.3,29.480],[323.9,29.405],[325.4,29.291],[326.8,29.177],[328.0,29.139],[329.5,29.108],[330.9,29.089],[332.6,29.120],[334.6,29.146],[336.7,29.155],[338.3,29.139],[339.7,29.120],[340.8,29.101],[342.8,29.095],[344.9,29.089],[346.9,29.076],[349.0,29.070],[351.1,29.064],[353.1,29.066],[355.2,29.101],[357.2,29.152],[359.3,29.209],[361.4,29.266],[363.4,29.329],[365.5,29.392],[367.5,29.443],[369.6,29.487],[371.6,29.525],[373.7,29.544],[375.7,29.550],[377.8,29.563],[379.8,29.588],[381.9,29.619],[383.9,29.635],[386.0,29.651],[388.0,29.660],[390.1,29.683],[392.1,29.720],[394.2,29.765],[396.2,29.809],[398.3,29.840],[400.3,29.853],[402.4,29.869],[404.4,29.882],[407.5,29.885],[409.6,29.882],[410.6,29.866],[412.7,29.840],[414.7,29.824],[416.8,29.815],[418.8,29.803],[420.9,29.777],[422.9,29.752],[425.0,29.727],[427.1,29.701],[428.7,29.680],[430.2,29.701],[432.2,29.710],[434.3,29.720],[436.3,29.739],[438.4,29.758],[440.4,29.790],[442.5,29.811],[444.5,29.824],[446.6,29.834]];

const FONT = '"Liberation Sans", Arial, Helvetica, sans-serif';
const GRID = '#e3e3e3';
const TXT = '#222';
const PAD = 24;   // room for edge tick labels above/below each plot
Chart.defaults.font.family = FONT;

const pts = arr => arr.map(([x, y]) => ({ x, y }));

// alternate-day shading + top/bottom frame lines
const dayBands = {
  id: 'dayBands',
  beforeDraw(chart) {
    const { ctx, chartArea: a, scales: { x } } = chart;
    ctx.save();
    ctx.fillStyle = '#e9f0f8';
    for (const d of shadedDays) {
      const x0 = Math.max(a.left, x.getPixelForValue(d * 24));
      const x1 = Math.min(a.right, x.getPixelForValue(d * 24 + 24));
      if (x1 > x0) ctx.fillRect(x0, a.top, x1 - x0, a.bottom - a.top);
    }
    ctx.strokeStyle = GRID;
    ctx.lineWidth = 1;
    ctx.beginPath();
    ctx.moveTo(a.left, a.top + 0.5); ctx.lineTo(a.right, a.top + 0.5);
    ctx.moveTo(a.left, a.bottom - 0.5); ctx.lineTo(a.right, a.bottom - 0.5);
    ctx.stroke();
    ctx.restore();
  }
};

function xScale(max, isTop) {
  return {
    type: 'linear', min: 0, max, position: isTop ? 'top' : 'bottom',
    afterFit: s => { s.height = isTop ? 38 : 0; },
    grid: { color: GRID, drawTicks: false },
    border: { display: false },
    ticks: {
      display: isTop, stepSize: 72, includeBounds: false, autoSkip: false, maxRotation: 0,
      padding: 8, color: TXT, font: { size: 16.5 },
      callback: v => dayTickLabels[Math.round(v / 72)]
    }
  };
}

function yScale(min, max, step, fmt) {
  return {
    min, max,
    afterFit: s => { s.width = 53; },
    grid: { color: GRID, drawTicks: false },
    border: { color: GRID },
    ticks: { stepSize: step, includeBounds: false, padding: 10, color: TXT, font: { size: 17 }, callback: fmt }
  };
}

function lineSet(label, data, color, order) {
  return { label, data: pts(data), borderColor: color, backgroundColor: color, borderWidth: 2.5,
           pointRadius: 0, tension: 0, fill: false, order };
}

function dotSet(label, data, color, order) {
  return { label, data: pts(data), borderColor: color, backgroundColor: color, showLine: false,
           pointRadius: 2.4, pointBorderWidth: 0, clip: false, order };
}

// areaTop / areaBottom: wanted page y of the plot area
function makeChart(id, areaTop, areaBottom, width, hasTopAxis, datasets, scales) {
  const cv = document.getElementById(id);
  const padTop = hasTopAxis ? 0 : PAD;
  const top = hasTopAxis ? areaTop - 38 : areaTop - PAD;
  cv.width = width;
  cv.height = areaBottom - top + PAD;
  cv.style.top = top + 'px';
  const chart = new Chart(cv, {
    type: 'line',
    data: { datasets },
    options: {
      responsive: false, animation: false, events: [],
      layout: { padding: { top: padTop, bottom: PAD, left: 0, right: 0 } },
      plugins: { legend: { display: false }, tooltip: { enabled: false } },
      scales
    },
    plugins: [dayBands]
  });
  chart.pageTop = top;
  return chart;
}

const X_FULL = 466.4;   // plot area reaches x = 812
const X_DIR = 456;      // wind-direction plot ends at Jul 20, compass axis to its right

const charts = [
  makeChart('c1', 38, 256, 812, true, [
    lineSet('Temperature (°F)', temperatureF, '#cc0000', 1),
    lineSet('Dew Point (°)', dewPointF, '#1f7f1f', 0)
  ], { x: xScale(X_FULL, true), y: yScale(47.1, 76.2, 5) }),

  makeChart('c2', 294, 515, 812, false, [
    lineSet('Wind Speed (mph)', windSpeedMph, '#0c1c8c', 1),
    dotSet('Wind Gust (mph)', windGustMph, '#fb6a0f', 0)
  ], { x: xScale(X_FULL, false), y: yScale(-0.59, 32.12, 5) }),

  makeChart('c3', 549, 764, 835, false, [
    dotSet('Wind Direction', windDirectionDeg, '#0c1c8c', 0)
  ], {
    x: xScale(X_DIR, false),
    y: yScale(0, 360, 90, v => v + '°'),
    y2: {
      position: 'right', min: 0, max: 360,
      afterFit: s => { s.width = 40; },
      grid: { display: false, drawTicks: false }, border: { display: false },
      ticks: { stepSize: 90, includeBounds: false, padding: 8, color: TXT, font: { size: 17 },
               callback: v => compassLabels[Math.round(v / 90)] }
    }
  }),

  makeChart('c4', 802, 1019, 812, false, [
    lineSet('Precip. Accum. Total (in)', precipAccumIn, '#1869ab', 1),
    lineSet('Precip. Rate (in)', precipRateIn, '#5cad0c', 0)
  ], { x: xScale(X_FULL, false), y: yScale(-0.0035, 1.096, 0.2, v => String(+v.toFixed(1))) }),

  makeChart('c5', 1057, 1273, 812, false, [
    lineSet('Pressure (in)', pressureIn, '#000000', 0)
  ], { x: xScale(X_FULL, false), y: yScale(29.064, 29.885, 0.2, v => v.toFixed(1)) })
];

// HTML legends under each panel, built from the datasets
const legendCenters = [279, 531, 786, 1041, 1296];
const wrap = document.getElementById('wrap');
charts.forEach((ch, i) => {
  const lg = document.createElement('div');
  lg.className = 'legend';
  lg.style.top = legendCenters[i] + 'px';
  ch.data.datasets.forEach(ds => {
    const it = document.createElement('span');
    it.className = 'item';
    const sw = document.createElement('i');
    sw.className = 'sw';
    sw.style.background = ds.borderColor;
    it.appendChild(sw);
    it.appendChild(document.createTextNode(ds.label));
    lg.appendChild(it);
  });
  wrap.insertBefore(lg, document.getElementById('hl'));
});

// highlighted day column across all panels
const hl = document.getElementById('hl');
const c1 = charts[0], c5 = charts[4];
const hx0 = c1.scales.x.getPixelForValue(highlightDay * 24);
const hx1 = c1.scales.x.getPixelForValue(highlightDay * 24 + 24);
const hTop = c1.pageTop + c1.chartArea.top;
const hBottom = c5.pageTop + c5.chartArea.bottom;
hl.style.left = hx0 + 'px';
hl.style.width = (hx1 - hx0) + 'px';
hl.style.top = hTop + 'px';
hl.style.height = (hBottom - hTop) + 'px';
</script>
</body>
</html>
